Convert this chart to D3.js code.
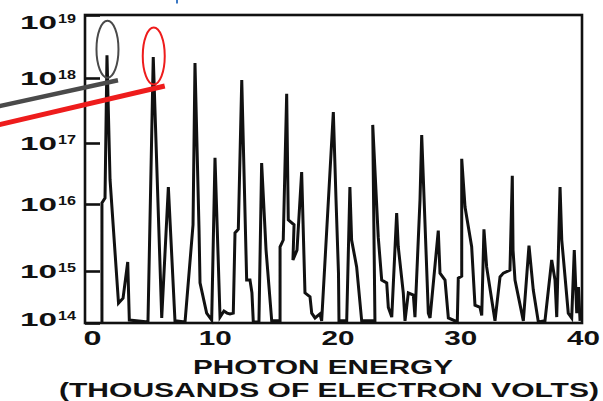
<!DOCTYPE html>
<html>
<head>
<meta charset="utf-8">
<script src="https://cdn.jsdelivr.net/npm/d3@7"></script>
<style>
  html, body { margin: 0; padding: 0; background: #fff; }
  svg { display: block; }
  text { font-family: "Liberation Sans", Arial, sans-serif; font-weight: bold; fill: #111; }
</style>
</head>
<body>
<svg id="chart" width="603" height="401"></svg>
<script>
// ---- data ----
const energy = [
  0.81, 0.81, 1.06, 1.22, 1.47, 2.16, 2.53, 2.91, 3.04, 4.56,
  4.99, 5.68, 6.22, 6.76, 7.58, 8.23, 8.39, 8.72, 8.8, 9.34,
  9.75, 10.02, 10.43, 10.75, 11.0, 11.24, 11.51, 11.65, 11.92, 12.2,
  12.6, 12.87, 13.03, 13.14, 13.6, 13.82, 14.18, 14.64, 15.32, 15.32,
  15.58, 15.86, 15.99, 16.46, 16.37, 16.7, 17.08, 17.35, 17.76, 17.9,
  18.17, 18.57, 18.71, 19.66, 19.88, 20.08, 20.12, 20.75, 21.01, 21.15,
  21.56, 21.97, 23.05, 22.87, 23.32, 23.6, 24.01, 24.14, 24.42, 24.82,
  24.95, 25.36, 25.5, 25.77, 26.18, 26.31, 26.72, 26.86, 27.4, 27.54,
  28.21, 28.35, 28.76, 29.03, 29.76, 29.84, 30.12, 30.12, 30.39, 30.93,
  31.2, 31.61, 31.75, 31.93, 32.15, 32.83, 33.24, 33.51, 34.05, 34.24,
  34.3, 34.46, 35.14, 35.6, 35.95, 36.36, 36.9, 37.45, 37.72, 37.86,
  38.13, 38.27, 38.8, 39.08, 39.29, 39.49, 39.63, 39.76
];
const intensity = [
  1.05e14, 1.04e16, 1.25e16, 2.3e18, 2.5e16, 2.4e14, 3.0e14, 1.36e15, 1.14e14, 1.05e14,
  2.15e18, 1.25e14, 1.9e16, 1.1e14, 1.05e14, 4.9e15, 1.73e18, 4.1e15, 5.9e14, 1.55e14,
  1.14e14, 5.7e16, 1.3e14, 1.7e14, 1.55e14, 1.5e14, 1.55e14, 3.7e15, 4.2e15, 9.3e17,
  6.7e14, 6.7e14, 3.8e14, 1.05e14, 1.05e14, 4.7e16, 2.05e15, 1.1e14, 1.1e14, 2.3e15,
  2.9e15, 5.7e17, 5.8e15, 4.9e15, 1.46e15, 2.05e15, 3.35e16, 3.8e14, 3.2e14, 1.55e14,
  1.25e14, 1.5e14, 1.1e14, 3.0e17, 1.16e16, 9.1e14, 1.1e14, 1.1e14, 1.9e16, 2.9e15,
  1.15e15, 1.1e14, 1.1e14, 1.9e17, 3.2e15, 6.7e14, 5.9e14, 2.0e14, 1.3e14, 7.3e15,
  2.3e15, 3.8e14, 1.1e14, 3.8e14, 3.45e14, 1.3e14, 1.16e16, 1.33e17, 1.55e14, 1.25e14,
  4.0e15, 9.1e14, 6.7e14, 1.25e14, 1.05e14, 7.3e14, 8.0e14, 5.5e16, 9.0e15, 2.3e15,
  2.2e14, 2.0e14, 1.4e14, 4.2e15, 1.15e15, 1.1e14, 7.7e14, 9.1e14, 1.03e15, 2.9e16,
  2.05e15, 6.7e14, 1.1e14, 2.4e15, 4.3e14, 1.05e14, 1.1e14, 1.46e15, 6.7e14, 1.3e14,
  1.9e16, 2.9e15, 1.55e14, 1.25e14, 2.05e15, 1.55e14, 4.9e14, 1.1e14
];
const xTicks = [0, 10, 20, 30, 40];
const yTicks = [1e14, 1e15, 1e16, 1e17, 1e18, 1e19];
const yTickExp = ["14", "15", "16", "17", "18", "19"];
const xTitle1 = "PHOTON ENERGY";
const xTitle2 = "(THOUSANDS OF ELECTRON VOLTS)";
const circledPeaks = [3, 10]; // indices of the two encircled peaks

// ---- layout ----
const frame = { left: 85, right: 582, top: 15, bottom: 323 };
const svg = d3.select("#chart");

const x = d3.scaleLinear().domain([0, 40]).range([92, 583]);
// decades in the scanned figure are not evenly spaced -> piecewise log scale
const y = d3.scaleLog()
  .domain(yTicks)
  .range([323, 271, 204, 143, 78, 15]);

// frame
svg.append("rect")
  .attr("x", frame.left).attr("y", frame.top)
  .attr("width", frame.right - frame.left).attr("height", frame.bottom - frame.top)
  .attr("fill", "none").attr("stroke", "#111").attr("stroke-width", 2.6);

// y ticks (inside the frame)
const yAxis = d3.axisRight(y).tickValues(yTicks).tickSize(15).tickFormat("");
const gy = svg.append("g").attr("transform", `translate(${frame.left},0)`).call(yAxis);
gy.select(".domain").remove();
gy.selectAll(".tick line").attr("stroke", "#111").attr("stroke-width", 2.6);

// y tick labels 10^n
const yl = svg.append("g");
yTicks.forEach((v, i) => {
  const cy = Math.max(22, Math.min(319.5, y(v)));
  yl.append("text")
    .attr("x", 20).attr("y", cy + 6.5)
    .attr("font-size", 18)
    .attr("textLength", 37).attr("lengthAdjust", "spacingAndGlyphs")
    .text("10");
  yl.append("text")
    .attr("x", 58).attr("y", cy + 0.5)
    .attr("font-size", 12.5)
    .attr("textLength", 18).attr("lengthAdjust", "spacingAndGlyphs")
    .text(yTickExp[i]);
});

// x tick labels
const xAxis = d3.axisBottom(x).tickValues(xTicks).tickSize(0).tickFormat(d3.format("d"));
const gx = svg.append("g").attr("transform", `translate(0,${frame.bottom})`).call(xAxis);
gx.select(".domain").remove();
gx.selectAll(".tick text")
  .attr("y", 22).attr("dy", 0)
  .attr("font-size", 20)
  .attr("font-family", "Liberation Sans, Arial, sans-serif")
  .attr("font-weight", "bold")
  .attr("fill", "#111")
  .attr("textLength", d => d === 0 ? 18 : 33)
  .attr("lengthAdjust", "spacingAndGlyphs");

// axis title
svg.append("text")
  .attr("x", 193).attr("y", 374)
  .attr("font-size", 20)
  .attr("textLength", 260).attr("lengthAdjust", "spacingAndGlyphs")
  .text(xTitle1);
svg.append("text")
  .attr("x", 59).attr("y", 396.5)
  .attr("font-size", 19.5)
  .attr("textLength", 540).attr("lengthAdjust", "spacingAndGlyphs")
  .text(xTitle2);

// spectrum line
const pts = energy.map((e, i) => [e, intensity[i]]);
const line = d3.line().x(d => x(d[0])).y(d => y(d[1]));
svg.append("path")
  .datum(pts)
  .attr("d", line)
  .attr("fill", "none")
  .attr("stroke", "#111")
  .attr("stroke-width", 3)
  .attr("stroke-linejoin", "miter");

// annotations: ellipses around two peaks and pointer lines
const annColors = ["#4a4a4a", "#ee1c1c"];
const ellipseDy = [-6, -1];
const pointerStart = [[-2, 106.5], [-2, 125]];
circledPeaks.forEach((idx, k) => {
  const px = x(energy[idx]);
  const py = y(intensity[idx]);
  svg.append("ellipse")
    .attr("cx", px + 0.5).attr("cy", py + ellipseDy[k])
    .attr("rx", 11).attr("ry", 28.5)
    .attr("fill", "none").attr("stroke", annColors[k]).attr("stroke-width", 2);
  svg.append("line")
    .attr("x1", pointerStart[k][0]).attr("y1", pointerStart[k][1])
    .attr("x2", px + 11 + (k === 1 ? 0.5 : 0)).attr("y2", py + (k === 0 ? 25 : 29))
    .attr("stroke", annColors[k]).attr("stroke-width", k === 0 ? 4.5 : 5);
});

// small blue mark at the top edge of the scan
svg.append("line")
  .attr("x1", 177).attr("y1", 0).attr("x2", 177).attr("y2", 3.5)
  .attr("stroke", "#3b78c4").attr("stroke-width", 2);
</script>
</body>
</html>
